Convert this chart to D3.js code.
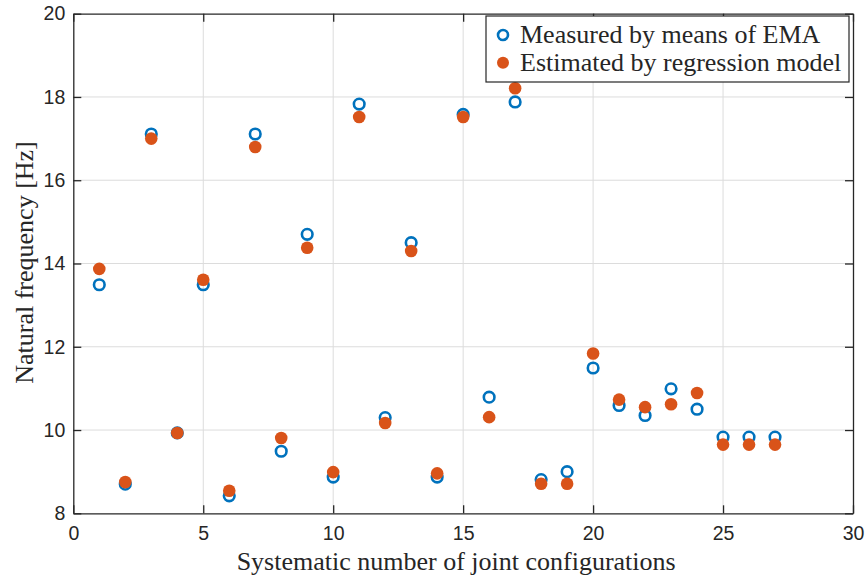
<!DOCTYPE html>
<html>
<head>
<meta charset="utf-8">
<script src="https://cdn.jsdelivr.net/npm/d3@7"></script>
<style>
  body { margin: 0; background: #fff; }
  svg { display: block; }
</style>
</head>
<body>
<div id="chart"></div>
<script>
// configuration numbers 1..27
var configs = d3.range(1, 28);
var measured = [13.49, 8.70, 17.11, 9.93, 13.49, 8.42, 17.11, 9.49, 14.70, 8.87,
                17.83, 10.30, 14.50, 8.87, 17.58, 10.79, 17.88, 8.81, 9.00, 11.49,
                10.59, 10.35, 10.99, 10.50, 9.83, 9.83, 9.83];
var estimated = [13.87, 8.75, 17.00, 9.93, 13.61, 8.54, 16.80, 9.81, 14.38, 8.99,
                 17.52, 10.17, 14.30, 8.96, 17.52, 10.31, 18.21, 8.71, 8.71, 11.84,
                 10.73, 10.55, 10.62, 10.89, 9.65, 9.65, 9.65];
var xTicks = [0, 5, 10, 15, 20, 25, 30];
var yTicks = [8, 10, 12, 14, 16, 18, 20];
var legendLabels = ["Measured by means of EMA", "Estimated by regression model"];

var W = 866, H = 579;
var margin = {top: 13.7, right: 13, bottom: 65.7, left: 73.3};
var width = W - margin.left - margin.right,
    height = H - margin.top - margin.bottom;

var blue = "#0072BD", orange = "#D95319", axisCol = "#262626";
var serif = "'Liberation Serif', 'Times New Roman', serif";

var svg = d3.select("#chart").append("svg")
    .attr("width", W)
    .attr("height", H)
  .append("g")
    .attr("transform", `translate(${margin.left},${margin.top})`);

var x = d3.scaleLinear().domain([0, 30]).range([0, width]);
var y = d3.scaleLinear().domain([8, 20]).range([height, 0]);

// grid
svg.append("g").selectAll("line.gx")
    .data(xTicks.slice(1, -1))
  .enter().append("line")
    .attr("x1", d => x(d)).attr("x2", d => x(d))
    .attr("y1", 0).attr("y2", height)
    .style("stroke", "#dcdcdc").style("stroke-width", 1);

svg.append("g").selectAll("line.gy")
    .data(yTicks.slice(1, -1))
  .enter().append("line")
    .attr("y1", d => y(d)).attr("y2", d => y(d))
    .attr("x1", 0).attr("x2", width)
    .style("stroke", "#dcdcdc").style("stroke-width", 1);

// axes (ticks inward, box on)
var tickLen = 8;
var xAxis = d3.axisBottom(x).tickValues(xTicks).tickSizeInner(-tickLen).tickSizeOuter(0).tickPadding(13);
var yAxis = d3.axisLeft(y).tickValues(yTicks).tickSizeInner(-tickLen).tickSizeOuter(0).tickPadding(8);
var xTop = d3.axisTop(x).tickValues(xTicks).tickSizeInner(-tickLen).tickSizeOuter(0).tickFormat("");
var yRight = d3.axisRight(y).tickValues(yTicks).tickSizeInner(-tickLen).tickSizeOuter(0).tickFormat("");

function styleAxis(g) {
  g.selectAll(".domain").style("stroke", axisCol).style("stroke-width", 1.3);
  g.selectAll(".tick line").style("stroke", axisCol).style("stroke-width", 1.3);
  g.selectAll(".tick text")
    .style("font-family", "'Liberation Sans', Arial, sans-serif")
    .style("font-size", "19.5px")
    .style("fill", axisCol);
}

svg.append("g").attr("transform", `translate(0,${height})`).call(xAxis).call(styleAxis);
svg.append("g").call(yAxis).call(styleAxis);
svg.append("g").call(xTop).call(styleAxis);
svg.append("g").attr("transform", `translate(${width},0)`).call(yRight).call(styleAxis);

// axis labels
svg.append("text")
    .attr("x", width / 2 - 7)
    .attr("y", height + 57)
    .style("text-anchor", "middle")
    .style("font-family", serif)
    .style("font-size", "26px")
    .style("fill", axisCol)
    .text("Systematic number of joint configurations");

svg.append("text")
    .attr("transform", "rotate(-90)")
    .attr("x", -height / 2 + 1)
    .attr("y", -40)
    .style("text-anchor", "middle")
    .style("font-family", serif)
    .style("font-size", "26px")
    .style("fill", axisCol)
    .text("Natural frequency [Hz]");

// points
svg.append("g").selectAll("circle")
    .data(configs)
  .enter().append("circle")
    .attr("cx", (d, i) => x(d))
    .attr("cy", (d, i) => y(measured[i]))
    .attr("r", 5.3)
    .style("fill", "none")
    .style("stroke", blue)
    .style("stroke-width", 2.6);

svg.append("g").selectAll("circle")
    .data(configs)
  .enter().append("circle")
    .attr("cx", (d, i) => x(d))
    .attr("cy", (d, i) => y(estimated[i]))
    .attr("r", 6.3)
    .style("fill", orange);

// legend
var lx = 486 - margin.left, ly = 16 - margin.top, lw = 363, lh = 66;
var legend = svg.append("g").attr("transform", `translate(${lx},${ly})`);
legend.append("rect")
    .attr("width", lw).attr("height", lh)
    .style("fill", "#fff")
    .style("stroke", axisCol)
    .style("stroke-width", 1.2);

var rows = legend.selectAll(".legend")
    .data(legendLabels)
  .enter().append("g")
    .attr("class", "legend")
    .attr("transform", (d, i) => `translate(0,${19 + i * 27.7})`);

rows.append("text")
    .attr("x", 34)
    .attr("y", 8.3)
    .style("font-family", serif)
    .style("font-size", "26px")
    .style("fill", axisCol)
    .text(d => d);

rows.filter((d, i) => i === 0).append("circle")
    .attr("cx", 17).attr("cy", 0).attr("r", 5)
    .style("fill", "none").style("stroke", blue).style("stroke-width", 2.6);
rows.filter((d, i) => i === 1).append("circle")
    .attr("cx", 17).attr("cy", 0).attr("r", 6)
    .style("fill", orange);
</script>
</body>
</html>
